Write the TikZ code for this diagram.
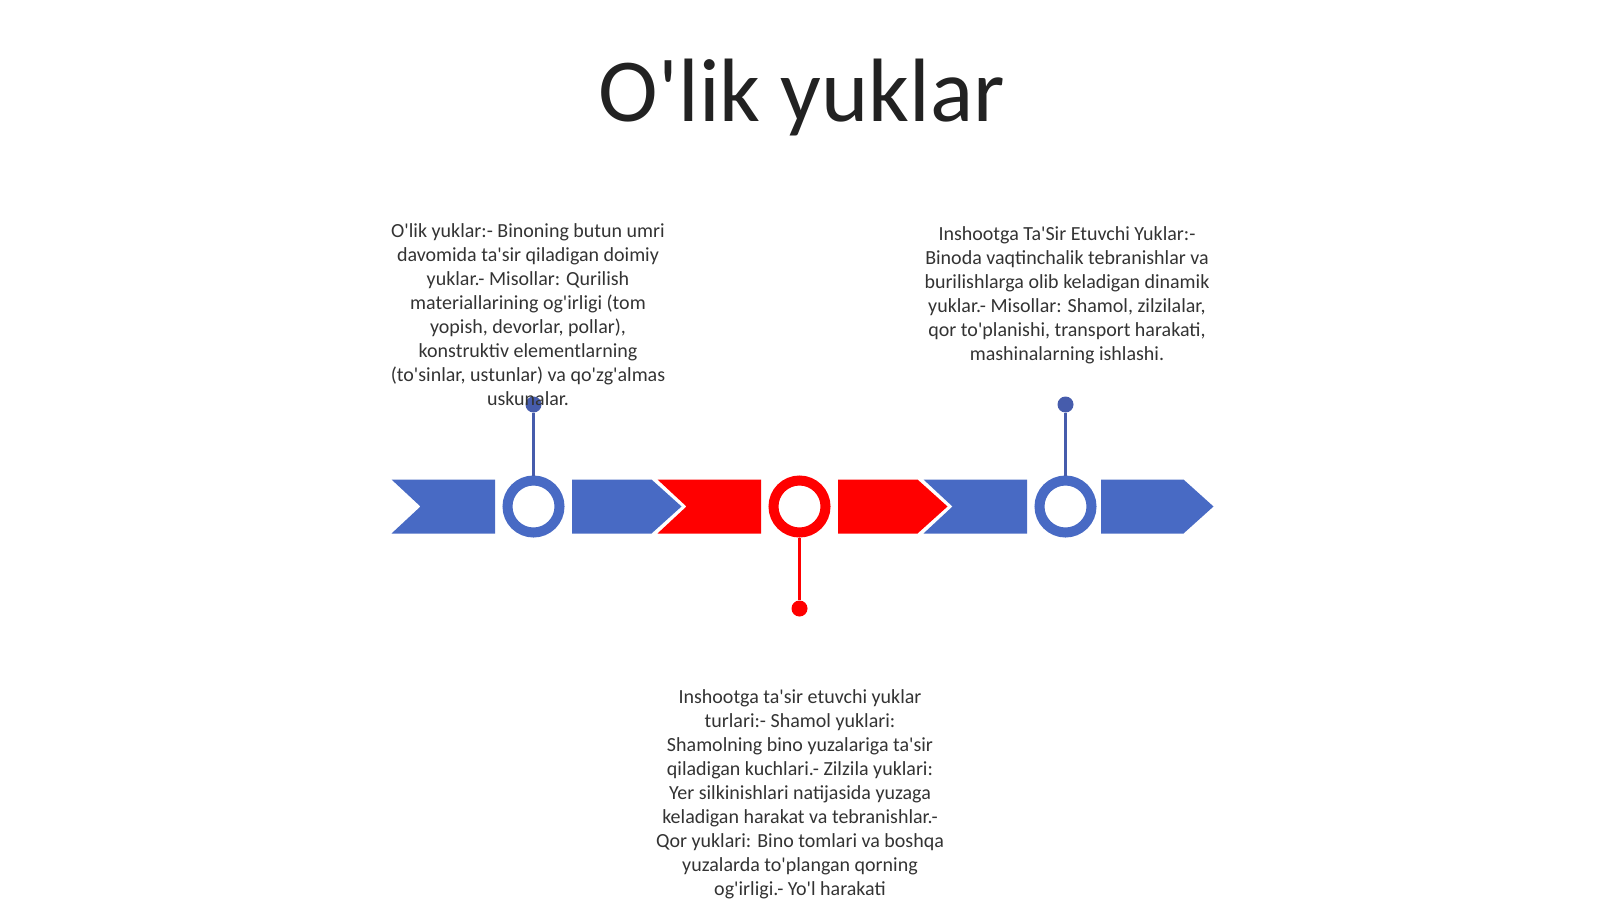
\documentclass[tikz,border=0pt]{standalone}
\usepackage{fontspec}
\setmainfont{Carlito}
\usetikzlibrary{positioning}
\definecolor{bandblue}{RGB}{72,106,196}
\definecolor{stemblue}{RGB}{70,92,172}
\definecolor{bandred}{RGB}{255,0,0}
\definecolor{txtgray}{RGB}{51,51,51}
\definecolor{titlegray}{RGB}{34,34,34}
\newcommand{\ap}{\textquotesingle}

\begin{document}
\begin{tikzpicture}[x=1pt, y=-1pt, node distance=102pt,
  ring/.style = {draw, circle, line width=10pt, fill=white, minimum size=52pt, inner sep=0pt},
  dot/.style = {circle, inner sep=0pt, minimum size=16pt},
  stem/.style = {line width=2.2pt},
  note/.style = {align=center, text=txtgray, inner sep=0pt, font=\fontsize{20}{24}\selectfont}]
\useasboundingbox (0,0) rectangle (1600,899);

\node[anchor=base, text=titlegray, font=\fontsize{90}{100}\selectfont] (title) at (802,121) {O\ap lik yuklar};

% band
\fill[bandblue] (391.5,479.5) -- (495,479.5) -- (495,533.5) -- (391.5,533.5) -- (420.5,506.5) -- cycle;
\fill[bandblue] (572,479.5) -- (651.5,479.5) -- (681.5,506.5) -- (651.5,533.5) -- (572,533.5) -- cycle;
\fill[bandred] (657.5,479.5) -- (761,479.5) -- (761,533.5) -- (657.5,533.5) -- (686.5,506.5) -- cycle;
\fill[bandred] (838,479.5) -- (917.5,479.5) -- (947.5,506.5) -- (917.5,533.5) -- (838,533.5) -- cycle;
\fill[bandblue] (923.5,479.5) -- (1027,479.5) -- (1027,533.5) -- (923.5,533.5) -- (952.5,506.5) -- cycle;
\fill[bandblue] (1101,479.5) -- (1183.5,479.5) -- (1213.5,506.5) -- (1183.5,533.5) -- (1101,533.5) -- cycle;

\node[ring, draw=bandblue] (r1) at (533.5,506.5) {};
\node[ring, draw=bandred] (r2) at (799.5,506.5) {};
\node[ring, draw=bandblue] (r3) at (1065.5,506.5) {};

\node[dot, fill=stemblue, above of=r1] (d1) {};
\node[dot, fill=bandred, below of=r2] (d2) {};
\node[dot, fill=stemblue, above of=r3] (d3) {};

\draw[stem, stemblue] (d1) -- (r1);
\draw[stem, bandred] (d2) -- (r2);
\draw[stem, stemblue] (d3) -- (r3);

% texts
\node[note] (t1) at (528,315) {O\ap lik yuklar:- Binoning butun umri\\ davomida ta\ap sir qiladigan doimiy\\ yuklar.- Misollar: Qurilish\\ materiallarining og\ap irligi (tom\\ yopish, devorlar, pollar),\\ konstruktiv elementlarning\\ (to\ap sinlar, ustunlar) va qo\ap zg\ap almas\\ uskunalar.};
\node[note] (t2) at (1067,295) {Inshootga Ta\ap Sir Etuvchi Yuklar:-\\ Binoda vaqtinchalik tebranishlar va\\ burilishlarga olib keladigan dinamik\\ yuklar.- Misollar: Shamol, zilzilalar,\\ qor to\ap planishi, transport harakati,\\ mashinalarning ishlashi.};
\node[note] (t3) at (800,794) {Inshootga ta\ap sir etuvchi yuklar\\ turlari:- Shamol yuklari:\\ Shamolning bino yuzalariga ta\ap sir\\ qiladigan kuchlari.- Zilzila yuklari:\\ Yer silkinishlari natijasida yuzaga\\ keladigan harakat va tebranishlar.-\\ Qor yuklari: Bino tomlari va boshqa\\ yuzalarda to\ap plangan qorning\\ og\ap irligi.- Yo\ap l harakati};

\end{tikzpicture}
\end{document}
